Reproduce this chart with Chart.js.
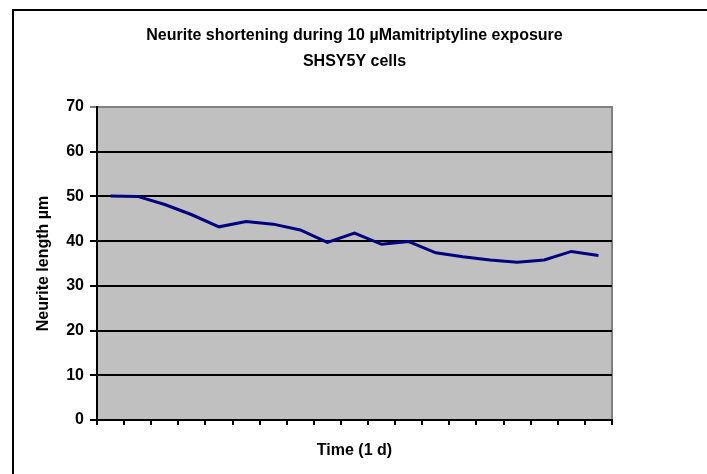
<!DOCTYPE html>
<html>
<head>
<meta charset="utf-8">
<script src="https://cdn.jsdelivr.net/npm/chart.js@4"></script>
<style>
  html, body { margin: 0; padding: 0; background: #fff; }
  #wrap { width: 707px; height: 474px; }
</style>
</head>
<body>
<div id="wrap"><canvas id="chart" width="707" height="474"></canvas></div>
<script>
// data
const days = ['1', '2', '3', '4', '5', '6', '7', '8', '9', '10', '11', '12', '13', '14', '15', '16', '17', '18', '19'];
const neuriteLength = [50.1, 50.0, 48.2, 45.9, 43.2, 44.4, 43.8, 42.5, 39.7, 41.8, 39.3, 39.9, 37.4, 36.5, 35.8, 35.3, 35.8, 37.7, 36.8];
const yTicks = [0, 10, 20, 30, 40, 50, 60, 70];
const titleLines = ['Neurite shortening during 10 µMamitriptyline exposure', 'SHSY5Y cells'];

const FONT = '"Liberation Sans", Arial, sans-serif';

// white page, outer frame, grey plot area and the title
const excelLook = {
    id: 'excelLook',
    beforeDraw(chart) {
        const { ctx, chartArea: a, width, height } = chart;
        ctx.save();
        ctx.fillStyle = '#fff';
        ctx.fillRect(0, 0, width, height);

        ctx.strokeStyle = '#000';
        ctx.lineWidth = 2;
        ctx.beginPath();
        ctx.moveTo(13, height + 5);
        ctx.lineTo(13, 10);
        ctx.lineTo(width + 5, 10);
        ctx.stroke();

        ctx.fillStyle = '#c0c0c0';
        ctx.fillRect(a.left, a.top, a.right - a.left, a.bottom - a.top);
        ctx.strokeStyle = '#808080';
        ctx.lineWidth = 2;
        ctx.strokeRect(a.left, a.top, a.right - a.left, a.bottom - a.top);

        ctx.fillStyle = '#000';
        ctx.font = 'bold 16px ' + FONT;
        ctx.textAlign = 'center';
        ctx.textBaseline = 'middle';
        const cx = (a.left + a.right) / 2;
        ctx.fillText(titleLines[0], cx, 36);
        ctx.fillText(titleLines[1], cx, 62);
        ctx.restore();
    }
};

new Chart(document.getElementById('chart'), {
    type: 'line',
    data: {
        labels: days,
        datasets: [{
            data: neuriteLength,
            borderColor: '#000080',
            borderWidth: 3,
            pointRadius: 0,
            tension: 0
        }]
    },
    options: {
        responsive: false,
        animation: false,
        layout: { padding: { top: 107, right: 95, bottom: 0, left: 0 } },
        plugins: {
            legend: { display: false },
            tooltip: { enabled: false },
            title: { display: false }
        },
        scales: {
            x: {
                offset: true,
                grid: {
                    offset: true,
                    drawOnChartArea: false,
                    drawTicks: true,
                    tickLength: 5,
                    color: '#000',
                    lineWidth: 2
                },
                border: { display: true, color: '#000', width: 2 },
                ticks: { callback: () => '', font: { size: 1 } },
                title: {
                    display: true,
                    text: 'Time (1 d)',
                    color: '#000',
                    font: { family: FONT, size: 16, weight: 'bold' },
                    padding: { top: 0, bottom: 14 }
                },
                afterFit(scale) { scale.height = 54; }
            },
            y: {
                min: 0,
                max: 70,
                afterBuildTicks(scale) { scale.ticks = yTicks.map(v => ({ value: v })); },
                grid: {
                    color: c => (c.tick && c.tick.value === 70 ? '#808080' : '#000'),
                    lineWidth: 2,
                    tickLength: 7,
                    drawTicks: true
                },
                border: { display: true, color: '#000', width: 2 },
                ticks: {
                    color: '#000',
                    padding: 6,
                    font: { family: FONT, size: 16, weight: 'bold' }
                },
                title: {
                    display: true,
                    text: 'Neurite length µm',
                    color: '#000',
                    font: { family: FONT, size: 16, weight: 'bold' },
                    padding: { top: 34, bottom: 0 }
                },
                afterFit(scale) { scale.width = 97; }
            }
        }
    },
    plugins: [excelLook]
});
</script>
</body>
</html>
